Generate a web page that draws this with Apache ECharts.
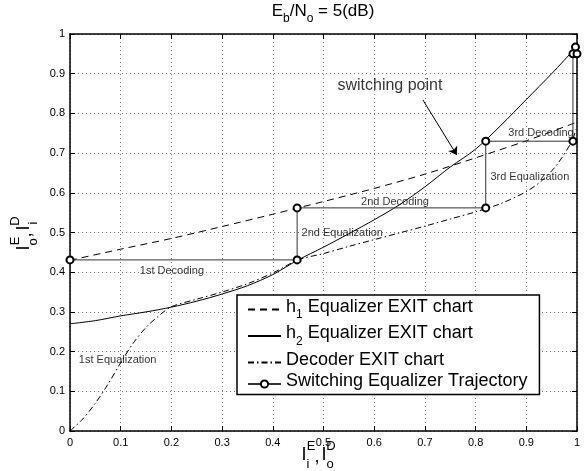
<!DOCTYPE html>
<html><head><meta charset="utf-8">
<script src="https://cdn.jsdelivr.net/npm/echarts@6/dist/echarts.min.js"></script>
<style>html,body{margin:0;padding:0;background:#fff}#c{width:585px;height:471px}</style>
</head><body><div id="c"></div>
<script>
const FONT = '"Liberation Sans", Arial, Helvetica, sans-serif';

// h1 equalizer EXIT chart (dashed)
const h1X = [0, 0.1, 0.2, 0.3, 0.4, 0.45, 0.5, 0.6, 0.7, 0.8, 0.9, 1.0];
const h1Y = [0.43, 0.458, 0.485, 0.515, 0.546, 0.562, 0.578, 0.611, 0.647, 0.688, 0.731, 0.778];
// h2 equalizer EXIT chart (solid)
const h2X = [0, 0.05, 0.1, 0.15, 0.2, 0.25, 0.3, 0.35, 0.4, 0.45, 0.5, 0.55, 0.6, 0.65, 0.7, 0.75, 0.8, 0.85, 0.9, 0.95, 0.99];
const h2Y = [0.27, 0.278, 0.29, 0.3, 0.312, 0.327, 0.345, 0.366, 0.394, 0.431, 0.463, 0.497, 0.532, 0.57, 0.615, 0.665, 0.71, 0.77, 0.835, 0.9, 0.955];
// Decoder EXIT chart (dash-dot)
const decX = [0, 0.025, 0.05, 0.075, 0.1, 0.125, 0.15, 0.175, 0.2, 0.25, 0.3, 0.35, 0.4, 0.45, 0.5, 0.55, 0.6, 0.65, 0.7, 0.75, 0.8, 0.85, 0.9, 0.93, 0.96, 0.99, 0.998];
const decY = [0, 0.03, 0.07, 0.118, 0.172, 0.222, 0.261, 0.29, 0.313, 0.332, 0.35, 0.371, 0.398, 0.431, 0.447, 0.465, 0.482, 0.499, 0.516, 0.534, 0.552, 0.573, 0.603, 0.63, 0.67, 0.73, 0.76];
// Switching equalizer trajectory
const trajX = [0, 0.448, 0.448, 0.82, 0.82, 0.992, 0.992, 1.0, 0.997];
const trajY = [0.431, 0.431, 0.562, 0.562, 0.73, 0.73, 0.95, 0.95, 0.967];

// annotations
const annoText = ['1st Decoding', '1st Equalization', '2nd Equalization', '2nd Decoding', '3rd Equalization', '3rd Decoding'];
const annoX = [0.201, 0.094, 0.537, 0.641, 0.907, 0.929];
const annoY = [0.403, 0.179, 0.499, 0.577, 0.64, 0.751];
const noteText = ['switching point'];
const noteX = [0.631];
const noteY = [0.871];
const arrowFrom = [0.696, 0.834];
const arrowTo = [0.763, 0.695];

const legendNames = {
  h1: '{b|h}{s|1}{b| Equalizer EXIT chart}',
  h2: '{b|h}{s|2}{b| Equalizer EXIT chart}',
  dec: '{b|Decoder EXIT chart}',
  traj: '{b|Switching Equalizer Trajectory}'
};

const zip = (xs, ys) => xs.map((x, i) => [x, ys[i]]);

const chart = echarts.init(document.getElementById('c'), null, {renderer: 'canvas'});

const axisCommon = {
  type: 'value', min: 0, max: 1, interval: 0.1,
  axisLine: {show: true, onZero: false, lineStyle: {color: '#000', width: 1.5}},
  axisTick: {show: true, inside: true, length: 5, lineStyle: {color: '#000', width: 1}}
};

const subText = (x, y, t, fs) => ({type: 'text', x: x, y: y, style: {text: t, fontSize: fs, fontFamily: FONT, fill: '#000', textAlign: 'center', align: 'center', textVerticalAlign: 'middle', verticalAlign: 'middle'}});

const option = {
  animation: false,
  backgroundColor: '#fff',
  title: {
    text: '{b|E}{s|b}{b|/N}{s|o}{b| = 5(dB)}',
    left: 323, top: 3, padding: 0, textAlign: 'center',
    textStyle: {
      fontFamily: FONT, fontWeight: 'normal', fontSize: 17, color: '#000',
      rich: {
        b: {fontFamily: FONT, fontSize: 17, verticalAlign: 'top', padding: [0, 0, 4, 0], color: '#000'},
        s: {fontFamily: FONT, fontSize: 12, verticalAlign: 'top', padding: [10, 0, 0, 0], color: '#000'}
      }
    }
  },
  grid: {left: 70, right: 8, top: 34, bottom: 40},
  xAxis: [
    Object.assign({}, axisCommon, {
      position: 'bottom',
      axisLabel: {fontFamily: FONT, fontSize: 11, color: '#000', margin: 6},
      splitLine: {show: true, lineStyle: {color: '#777', width: 1, type: [1, 3]}}
    }),
    Object.assign({}, axisCommon, {
      position: 'top',
      axisLabel: {show: false},
      splitLine: {show: false}
    })
  ],
  yAxis: [
    Object.assign({}, axisCommon, {
      position: 'left',
      axisLabel: {fontFamily: FONT, fontSize: 11, color: '#000', margin: 5},
      splitLine: {show: true, lineStyle: {color: '#777', width: 1, type: [1, 3]}}
    }),
    Object.assign({}, axisCommon, {
      position: 'right',
      axisLabel: {show: false},
      splitLine: {show: false}
    })
  ],
  legend: {
    data: [
      {name: 'h1', itemStyle: {opacity: 0}},
      {name: 'h2', itemStyle: {opacity: 0}},
      {name: 'dec', itemStyle: {opacity: 0}},
      {name: 'traj'}
    ],
    orient: 'vertical',
    left: 237, top: 295,
    padding: [3, 12, 4, 10],
    itemGap: 3.5,
    itemWidth: 33, itemHeight: 9,
    backgroundColor: '#fff',
    borderColor: '#000', borderWidth: 1.5, borderRadius: 0,
    formatter: name => legendNames[name],
    textStyle: {
      fontFamily: FONT, fontSize: 18, color: '#000',
      rich: {
        b: {fontFamily: FONT, fontSize: 18, verticalAlign: 'top', padding: [0, 0, 5, 0], color: '#000'},
        s: {fontFamily: FONT, fontSize: 12, verticalAlign: 'top', padding: [11, 0, 0, 0], color: '#000'}
      }
    },
    selectedMode: false
  },
  graphic: [
    {
      type: 'group', x: 318, y: 455,
      children: [
        subText(-14, 0, 'I', 18), subText(-7, -9, 'E', 13), subText(-10, 9, 'i', 13),
        subText(-1, 2, ',', 18),
        subText(6, 0, 'I', 18), subText(13, -9, 'D', 13), subText(12, 9, 'o', 13)
      ]
    },
    {
      type: 'group', x: 24, y: 234, rotation: Math.PI / 2,
      children: [
        subText(-14, 0, 'I', 18), subText(-7, -9, 'E', 13), subText(-8, 9, 'o', 13),
        subText(-1, 2, ',', 18),
        subText(6, 0, 'I', 18), subText(13, -9, 'D', 13), subText(11, 9, 'i', 13)
      ]
    }
  ],
  series: [
    {
      name: 'h1', type: 'line', data: zip(h1X, h1Y), smooth: 0.3, symbol: 'none',
      lineStyle: {color: '#000', width: 1, type: [7, 5]}, itemStyle: {color: '#000'}, z: 3
    },
    {
      name: 'h2', type: 'line', data: zip(h2X, h2Y), smooth: 0.3, symbol: 'none',
      lineStyle: {color: '#000', width: 1, type: 'solid'}, itemStyle: {color: '#000'}, z: 3
    },
    {
      name: 'dec', type: 'line', data: zip(decX, decY), smooth: 0.3, symbol: 'none',
      lineStyle: {color: '#000', width: 1, type: [6, 3, 1.5, 3]}, itemStyle: {color: '#000'}, z: 3
    },
    {
      name: 'traj', type: 'line', data: zip(trajX, trajY), symbol: 'emptyCircle', symbolSize: 7,
      lineStyle: {color: '#333', width: 1}, itemStyle: {color: '#000', borderColor: '#000', borderWidth: 1}, z: 4
    },
    {
      name: 'anno', type: 'scatter', symbolSize: 0, silent: true, z: 5,
      data: annoText.map((t, i) => ({name: t, value: [annoX[i], annoY[i]]})),
      label: {show: true, position: 'inside', formatter: p => p.name, fontFamily: FONT, fontSize: 11, color: '#000'}
    },
    {
      name: 'note', type: 'scatter', symbolSize: 0, silent: true, z: 5,
      data: noteText.map((t, i) => ({name: t, value: [noteX[i], noteY[i]]})),
      label: {show: true, position: 'inside', formatter: p => p.name, fontFamily: FONT, fontSize: 16, color: '#000'},
      markLine: {
        silent: true, animation: false,
        symbol: ['none', 'arrow'], symbolSize: 8,
        label: {show: false},
        lineStyle: {color: '#000', width: 1, type: 'solid'},
        data: [[{coord: arrowFrom}, {coord: arrowTo}]]
      }
    }
  ]
};
chart.setOption(option);
</script>
</body></html>
